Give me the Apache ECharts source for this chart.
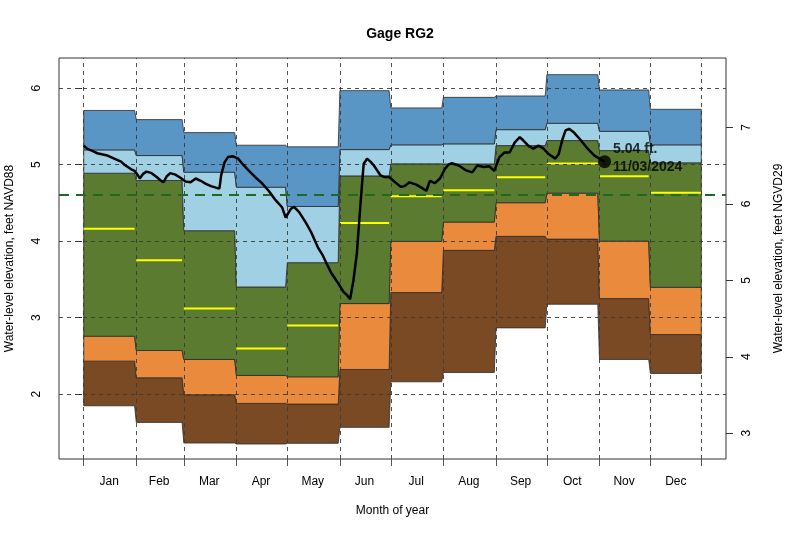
<!DOCTYPE html>
<html>
<head>
<meta charset="utf-8">
<script src="https://cdn.jsdelivr.net/npm/echarts@6/dist/echarts.min.js"></script>
<style>html,body{margin:0;padding:0;background:#fff}#c{width:800px;height:533px}</style>
</head>
<body>
<div id="c"></div>
<script>
// ---- data ----
const months = ['Jan','Feb','Mar','Apr','May','Jun','Jul','Aug','Sep','Oct','Nov','Dec'];
const monthStart = [1,32,60,91,121,152,182,213,244,274,305,335];
const monthEnd   = [31,59,90,120,151,181,212,243,273,304,334,365];
const maxV   = [5.71,5.59,5.42,5.255,5.234,5.969,5.743,5.881,5.899,6.178,5.978,5.725];
const p90    = [5.194,5.12,4.902,4.706,4.454,5.198,5.26,5.273,5.459,5.542,5.437,5.26];
const p75    = [4.889,4.794,4.137,3.401,3.719,4.854,5.012,5.01,5.25,5.316,5.185,5.025];
const median = [4.163,3.749,3.119,2.597,2.897,4.237,4.589,4.667,4.837,5.016,4.85,4.633];
const p25    = [2.757,2.57,2.453,2.244,2.226,3.184,3.997,4.25,4.503,4.628,4.001,3.397];
const p10    = [2.431,2.213,1.991,1.878,1.869,2.322,3.328,3.88,4.063,4.027,3.249,2.779];
const minV   = [1.847,1.63,1.36,1.347,1.356,1.565,2.161,2.283,2.866,3.175,2.453,2.27];
const refLevel = 4.607;
const dailyDays = [1,3,5,7,9,11,13,15,17,19,21,23,25,27,29,31,33,34,36,38,41,44,46,48,50,52,55,58,61,64,67,70,73,76,79,81,82,84,86,89,92,95,98,102,106,110,114,118,120,123,125,128,132,135,139,142,145,147,151,154,156,158,160,162,164,166,168,170,172,176,178,181,184,188,190,193,197,200,203,205,208,211,214,216,218,222,226,230,233,237,240,243,246,249,252,255,258,260,263,266,269,272,275,279,281,283,285,287,290,294,298,302,305,308];
const dailyVals = [5.25,5.21,5.19,5.17,5.15,5.14,5.13,5.12,5.10,5.08,5.06,5.04,5.00,4.97,4.94,4.92,4.86,4.82,4.88,4.91,4.89,4.84,4.80,4.77,4.85,4.89,4.87,4.83,4.78,4.77,4.82,4.79,4.75,4.72,4.70,4.69,4.86,5.03,5.10,5.11,5.08,5.00,4.93,4.84,4.76,4.66,4.54,4.44,4.31,4.42,4.45,4.38,4.24,4.12,3.92,3.81,3.67,3.58,3.45,3.34,3.30,3.24,3.49,3.84,4.45,5.01,5.08,5.04,4.99,4.86,4.84,4.84,4.78,4.71,4.72,4.77,4.74,4.70,4.66,4.79,4.76,4.82,4.95,5.00,5.02,4.99,4.93,4.90,4.99,4.97,4.98,4.92,5.10,5.16,5.16,5.29,5.36,5.32,5.25,5.21,5.25,5.21,5.14,5.08,5.14,5.32,5.45,5.47,5.42,5.32,5.21,5.12,5.08,5.04];
const lastDay = 308, lastValue = 5.04, lastDate = '11/03/2024';
const leftTicks = [2,3,4,5,6];
const rightTicks = [3,4,5,6,7];
const datumOffset = 1.512; // NGVD29 = NAVD88 + offset

// ---- layout / style ----
const xMin = -13.56, xMax = 379.56;
const yMin = 1.151, yMax = 6.396;
const boundaries = monthStart.concat([365]);
const monthMid = monthStart.map((s,i)=>(s+monthEnd[i])/2);
const bands = [
  {lo:minV, hi:p10, color:'#7a4a24'},
  {lo:p10, hi:p25, color:'#e98a3c'},
  {lo:p25, hi:p75, color:'#5a7b30'},
  {lo:p75, hi:p90, color:'#a0d0e3'},
  {lo:p90, hi:maxV, color:'#5a96c5'}
];
const font = 'Liberation Sans, Arial, Helvetica, sans-serif';

const chart = echarts.init(document.getElementById('c'), null, {renderer:'canvas'});
const option = {
  animation:false,
  backgroundColor:'#fff',
  title:{text:'Gage RG2', left:'center', top:22, textStyle:{fontFamily:font, fontSize:14, fontWeight:'bold', color:'#000'}},
  grid:{left:59, right:74, top:58, bottom:74, show:true, borderColor:'#333', borderWidth:1, backgroundColor:'transparent', outerBoundsMode:'none'},
  xAxis:{type:'value', min:xMin, max:xMax,
    name:'Month of year', nameLocation:'middle', nameGap:46,
    nameTextStyle:{fontFamily:font, fontSize:12, color:'#000'},
    axisLine:{show:false},
    axisTick:{show:true, customValues:boundaries, length:7, lineStyle:{color:'#555'}},
    axisLabel:{show:true, customValues:monthMid, margin:17, fontFamily:font, fontSize:12, color:'#000',
      formatter:function(v){ let best=0,bd=1e9; monthMid.forEach((m,i)=>{const d=Math.abs(m-v); if(d<bd){bd=d;best=i;}}); return months[best]; }},
    splitLine:{show:false}
  },
  yAxis:[
    {type:'value', min:yMin, max:yMax, position:'left',
      name:'Water-level elevation, feet NAVD88', nameLocation:'middle', nameGap:43, nameRotate:90,
      nameTextStyle:{fontFamily:font, fontSize:12, color:'#000'},
      axisLine:{show:false},
      axisTick:{show:true, customValues:leftTicks, length:7, lineStyle:{color:'#333'}},
      axisLabel:{show:true, customValues:leftTicks, rotate:90, margin:16, fontFamily:font, fontSize:12, color:'#000'},
      splitLine:{show:false}
    },
    {type:'value', min:yMin+datumOffset, max:yMax+datumOffset, position:'right',
      name:'Water-level elevation, feet NGVD29', nameLocation:'middle', nameGap:47, nameRotate:90,
      nameTextStyle:{fontFamily:font, fontSize:12, color:'#000'},
      axisLine:{show:false},
      axisTick:{show:true, customValues:rightTicks, length:7, lineStyle:{color:'#333'}},
      axisLabel:{show:true, customValues:rightTicks, rotate:90, margin:15, fontFamily:font, fontSize:12, color:'#000'},
      splitLine:{show:false}
    }
  ],
  series:[
    {type:'custom', name:'bands', z:1, silent:true,
      data: bands.map((b,i)=>[i, 0]),
      renderItem:function(params, api){
        const b = bands[params.dataIndex];
        const top=[], bot=[];
        for(let m=0;m<12;m++){
          top.push(api.coord([monthStart[m], b.hi[m]]));
          top.push(api.coord([monthEnd[m], b.hi[m]]));
          bot.push(api.coord([monthStart[m], b.lo[m]]));
          bot.push(api.coord([monthEnd[m], b.lo[m]]));
        }
        const pts = top.concat(bot.reverse());
        return {type:'polygon', shape:{points:pts}, style:{fill:b.color, stroke:'#2b2b2b', lineWidth:0.8}};
      }
    },
    {type:'custom', name:'median', z:3, silent:true,
      data: median.map((v,i)=>[monthStart[i], v, monthEnd[i]]),
      renderItem:function(params, api){
        const a = api.coord([api.value(0), api.value(1)]);
        const b = api.coord([api.value(2), api.value(1)]);
        return {type:'line', shape:{x1:a[0], y1:a[1], x2:b[0], y2:b[1]}, style:{stroke:'#ffff00', lineWidth:2}};
      }
    },
    {type:'line', name:'grid', z:2, data:[], silent:true,
      markLine:{silent:true, symbol:'none', label:{show:false},
        lineStyle:{color:'#3a3a3a', width:0.9, type:[4,4]},
        data: boundaries.map(d=>({xAxis:d})).concat(leftTicks.map(v=>({yAxis:v})))
      }
    },
    {type:'line', name:'ref', z:4, data:[], silent:true,
      markLine:{silent:true, symbol:'none', label:{show:false},
        lineStyle:{color:'#1e6a1e', width:2.2, type:[10,7]},
        data:[{yAxis:refLevel}]
      }
    },
    {type:'line', name:'daily', z:5, showSymbol:false, silent:true,
      data: dailyDays.map((d,i)=>[d, dailyVals[i]]),
      lineStyle:{color:'#000', width:2.5}, itemStyle:{color:'#000'}
    },
    {type:'scatter', name:'last', z:6, silent:true,
      data:[[lastDay, lastValue]], symbolSize:13, itemStyle:{color:'#000'},
      label:{show:true, position:'right', distance:2, offset:[0,-4],
        formatter: lastValue.toFixed(2)+' ft.\n'+lastDate,
        fontFamily:font, fontSize:14, fontWeight:'bold', color:'#000', lineHeight:18}
    }
  ]
};
chart.setOption(option);
</script>
</body>
</html>
